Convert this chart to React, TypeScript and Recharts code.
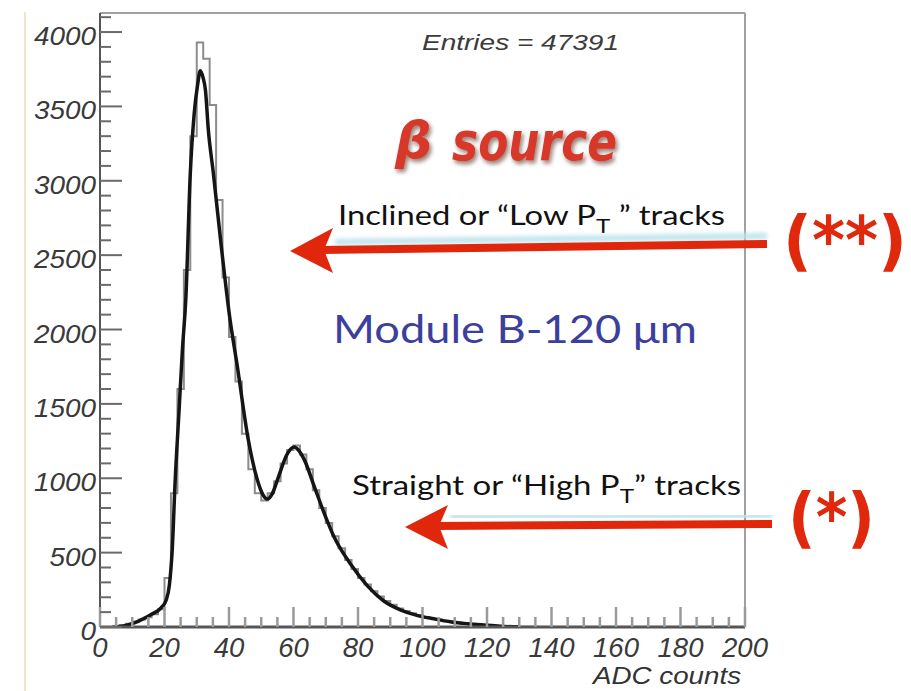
import React from 'react';
import { LineChart, Line, XAxis, YAxis, ReferenceLine } from 'recharts';

// histogram: 100 bins of 2 ADC counts, value per bin (low edge = index * 2)
const binCounts = [
    0, 0, 5, 12, 22, 35, 50, 65, 85, 120,
    330, 900, 1600, 2400, 3300, 3930, 3820, 3510, 2870, 2350,
    1950, 1650, 1300, 1060, 900, 850, 900, 980, 1100, 1190,
    1220, 1160, 1060, 920, 800, 700, 610, 530, 450, 390,
    330, 285, 240, 205, 175, 150, 125, 108, 92, 80,
    68, 58, 50, 42, 36, 30, 25, 20, 16, 13,
    10, 8, 6, 4, 3, 2, 1, 1, 0, 0,
    0, 0, 0, 0, 0, 0, 0, 0, 0, 0,
    0, 0, 0, 0, 0, 0, 0, 0, 0, 0,
    0, 0, 0, 0, 0, 0, 0, 0, 0, 0,
];
const BIN_WIDTH = 2;

// fitted curve
const fitX = [
    4.5, 8, 12, 16, 19, 20.5, 21.5, 22.4, 23.3, 24.5, 25.6, 26.6, 28, 29.2, 30.3, 31.1,
    32, 32.7, 33.6, 35.1, 37.5, 40.3, 42.6, 46, 48.8, 50.5, 51.9, 53.5, 55, 58.2, 60.2,
    61.5, 63.4, 66.5, 69.5, 72.6, 77.8, 83, 88, 93.3, 98, 103.5, 109, 114, 119, 124, 130,
];
const fitY = [
    0, 10, 40, 85, 130, 180, 280, 520, 980, 1450, 1880, 2200, 3050, 3450, 3650, 3740,
    3690, 3609, 3340, 3060, 2580, 2070, 1750, 1257, 988, 890, 860, 900, 988, 1169, 1210,
    1190, 1122, 941, 766, 605, 420, 275, 175, 114, 80, 55, 34, 22, 13, 5, 1,
];

const xMajorTicks = [0, 20, 40, 60, 80, 100, 120, 140, 160, 180, 200];
const yMajorTicks = [0, 500, 1000, 1500, 2000, 2500, 3000, 3500, 4000];
const xTicks = Array.from({ length: 41 }, (_, i) => i * 5);
const yTicks = Array.from({ length: 42 }, (_, i) => i * 100);
const Y_MAX = 4128;

const PLOT_LEFT = 100;
const PLOT_BOTTOM = 627;

const histData = [
    ...binCounts.map((h, i) => ({ x: i * BIN_WIDTH, h })),
    { x: 200, h: 0 },
];
const fitData = fitX.map((x, i) => ({ x, f: fitY[i] }));

const labelFont = '"Liberation Sans", Arial, sans-serif';

const YTick = (props: any) => {
    const { y, payload } = props;
    const v = payload.value;
    const major = yMajorTicks.includes(v);
    return (
        <g>
            <line x1={PLOT_LEFT} x2={PLOT_LEFT + (major ? 22 : 11)} y1={y} y2={y} stroke="#6a6a6a" strokeWidth={2} />
            {major && (
                <text x={96} y={y + 13} textAnchor="end" fontFamily={labelFont} fontStyle="italic" fontSize={25}
                    fill="#3a3a3a" textLength={String(v).length * 15.5} lengthAdjust="spacingAndGlyphs">{v}</text>
            )}
        </g>
    );
};

const XTick = (props: any) => {
    const { x, payload } = props;
    const v = payload.value;
    const major = xMajorTicks.includes(v);
    return (
        <g>
            <line x1={x} x2={x} y1={PLOT_BOTTOM} y2={PLOT_BOTTOM - (major ? 20 : 10)} stroke="#9a9a9a" strokeWidth={2.5} />
            {major && (
                <text x={x} y={657} textAnchor="middle" fontFamily={labelFont} fontStyle="italic" fontSize={27}
                    fill="#3a3a3a" textLength={String(v).length * 15.3} lengthAdjust="spacingAndGlyphs">{v}</text>
            )}
        </g>
    );
};

const Annotations = () => (
    <svg width={911} height={691} style={{ position: 'absolute', left: 0, top: 0, pointerEvents: 'none' }}>
        <defs>
            <filter id="redShadow" x="-10%" y="-20%" width="130%" height="150%">
                <feDropShadow dx="2" dy="3" stdDeviation="2" floodColor="#3a0a05" floodOpacity="0.55" />
            </filter>
            <filter id="blueGlow" x="-5%" y="-100%" width="110%" height="300%">
                <feGaussianBlur stdDeviation="2" />
            </filter>
        </defs>
        <line x1={25} y1={12} x2={25} y2={691} stroke="#efe6cc" strokeWidth={2} />

        <text x={422} y={50} fontFamily={labelFont} fontStyle="italic" fontSize={22} fill="#3c3c3c"
            textLength={197} lengthAdjust="spacingAndGlyphs">Entries = 47391</text>

        <g filter="url(#redShadow)" fill="#d8382a" fontFamily='"DejaVu Sans", sans-serif' fontWeight="bold" fontStyle="italic">
            <text x={395} y={158} fontSize={52}>β</text>
            <text x={452} y={160} fontSize={54} textLength={165} lengthAdjust="spacingAndGlyphs">source</text>
        </g>

        <text x={338} y={225} fontFamily="Lato, sans-serif" fontSize={27} fill="#111" textLength={387} lengthAdjust="spacingAndGlyphs">
            Inclined or “Low P<tspan dy={8} fontSize={20}>T</tspan><tspan dy={-8}> ” tracks</tspan>
        </text>

        <text x={333} y={343} fontFamily="Lato, sans-serif" fontSize={38} fill="#3d3f9c" textLength={364} lengthAdjust="spacingAndGlyphs">
            Module B-120 μm
        </text>

        <text x={352} y={495} fontFamily="Lato, sans-serif" fontSize={27} fill="#111" textLength={389} lengthAdjust="spacingAndGlyphs">
            Straight or “High P<tspan dy={8} fontSize={20}>T</tspan><tspan dy={-8}>” tracks</tspan>
        </text>

        {/* arrows */}
        <line x1={335} y1={242} x2={767} y2={236} stroke="#bfe3ec" strokeWidth={6} filter="url(#blueGlow)" />
        <line x1={320} y1={250} x2={767} y2={244} stroke="#e1270b" strokeWidth={8} />
        <polygon points="290,251 333,228 324,250 333,273" fill="#e1270b" />

        <line x1={450} y1={517} x2={772} y2={516} stroke="#bfe3ec" strokeWidth={6} filter="url(#blueGlow)" />
        <line x1={435} y1={526} x2={772} y2={524} stroke="#e1270b" strokeWidth={8} />
        <polygon points="405,527 448,505 439,526 448,549" fill="#e1270b" />

        <text x={783} y={263} fontFamily='"DejaVu Sans", sans-serif' fontWeight="bold" fontSize={66} fill="#e0280c"
            textLength={124} lengthAdjust="spacingAndGlyphs">(**)</text>
        <text x={788} y={540} fontFamily='"DejaVu Sans", sans-serif' fontWeight="bold" fontSize={66} fill="#e0280c"
            textLength={87} lengthAdjust="spacingAndGlyphs">(*)</text>

        <text x={741} y={684} textAnchor="end" fontFamily={labelFont} fontStyle="italic" fontSize={23} fill="#333"
            textLength={148} lengthAdjust="spacingAndGlyphs">ADC counts</text>
    </svg>
);

export default function App() {
    return (
        <div style={{ position: 'absolute', left: 0, top: 0, width: 911, height: 691, background: '#fff' }}>
            <LineChart width={911} height={691} data={histData} margin={{ top: 13, right: 166, bottom: 24, left: 10 }}>
                <XAxis dataKey="x" type="number" domain={[0, 200]} ticks={xTicks} interval={0} height={40}
                    axisLine={{ stroke: '#555', strokeWidth: 3 }} tickLine={false} tick={(p: any) => <XTick {...p} />} />
                <YAxis type="number" domain={[0, Y_MAX]} ticks={yTicks} interval={0} width={90} allowDataOverflow
                    axisLine={{ stroke: '#555', strokeWidth: 2 }} tickLine={false} tick={(p: any) => <YTick {...p} />} />
                <ReferenceLine y={Y_MAX} stroke="#a0a0a0" strokeWidth={2} />
                <ReferenceLine x={200} stroke="#a0a0a0" strokeWidth={2} />
                <Line dataKey="h" type="stepAfter" stroke="#8c8c8c" strokeWidth={2} dot={false} isAnimationActive={false} />
                <Line data={fitData} dataKey="f" type="monotone" stroke="#151515" strokeWidth={3.5} dot={false} isAnimationActive={false} />
            </LineChart>
            <Annotations />
        </div>
    );
}
